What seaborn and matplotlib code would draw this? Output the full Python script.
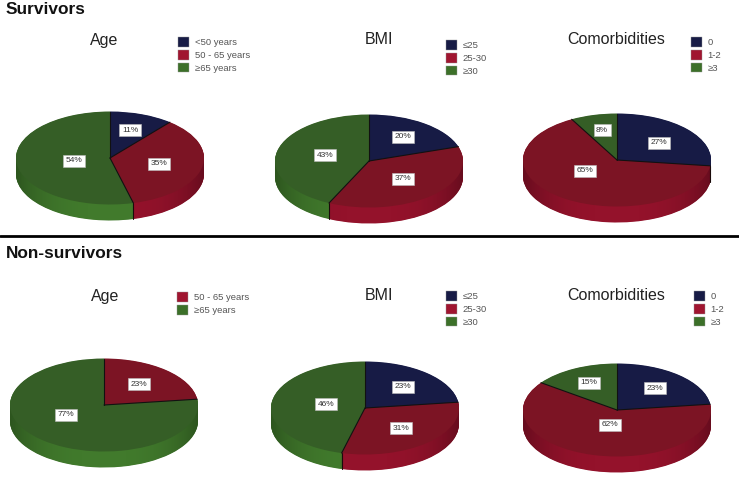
import numpy as np
import seaborn as sns
from matplotlib import pyplot as plt
from matplotlib.patches import Patch
from matplotlib.path import Path

sns.set_theme(style='white')
plt.rcParams['font.family'] = ['Liberation Sans', 'DejaVu Sans']

W, H = 739, 479

# values
age_labels = ['<50 years', '50 - 65 years', '≥65 years']
bmi_labels = ['≤25', '25-30', '≥30']
com_labels = ['0', '1-2', '≥3']

surv_age = [11, 35, 54]
surv_bmi = [20, 37, 43]
surv_com = [27, 65, 8]
non_age = [0, 23, 77]
non_bmi = [23, 31, 46]
non_com = [23, 62, 15]

top_cols = sns.color_palette(['#171b45', '#7c1424', '#355e26'])
side_cols = sns.color_palette(['#1c2050', '#94122b', '#417a2c'])

fig = plt.figure(figsize=(W / 100, H / 100), dpi=100, facecolor='white')


def pie3d(cx, cy, vals, label_xy, rx=94, ry=46.5, depth=16):
    ax = fig.add_axes([(cx - rx - 2) / W, (H - cy - ry - depth - 2) / H,
                       (2 * rx + 4) / W, (2 * ry + depth + 4) / H])
    keep = [i for i, v in enumerate(vals) if v > 0]
    v = [vals[i] for i in keep]
    top = [top_cols[i] for i in keep]
    side = [side_cols[i] for i in keep]
    # extrusion is just the same pie stacked downwards
    d = depth / ry
    for off in np.linspace(d, 0.01, depth * 2):
        ax.pie(v, colors=side, startangle=90, counterclock=False, center=(0, -off),
               wedgeprops={'linewidth': 0})

    # darken the rim towards both ends
    xs = np.linspace(-1, 1, 200)
    shade = np.zeros((1, 200, 4))
    shade[..., 3] = 0.3 * np.abs(xs) ** 3
    t = np.linspace(np.pi, 2 * np.pi, 80)
    rim = Path(np.column_stack([np.r_[np.cos(t), 1, -1], np.r_[np.sin(t) - d, 0, 0]]))
    im = ax.imshow(shade, extent=(-1, 1, -1 - d, 0), aspect='auto', zorder=1.5)
    im.set_clip_path(rim, transform=ax.transData)

    ang = 90 - np.cumsum(v) * 3.6
    for a in ang:
        x, y = np.cos(np.radians(a)), np.sin(np.radians(a))
        if y < 0:
            ax.plot([x, x], [y, y - d], color='#1a0a0a', lw=0.8, zorder=2)
    _, _, pcts = ax.pie(v, colors=top, startangle=90, counterclock=False,
                        autopct=lambda p: f'{p:.0f}%', pctdistance=0.6,
                        wedgeprops={'linewidth': 0, 'zorder': 2.5},
                        textprops={'fontsize': 6, 'color': '#333333', 'zorder': 4,
                                   'bbox': {'facecolor': 'white', 'edgecolor': '#bbbbbb',
                                            'pad': 1.8, 'linewidth': 0.4}})
    # labels sit where the original put them, not on a fixed radius
    for txt, (px, py) in zip(pcts, label_xy):
        txt.set_transform(fig.transFigure)
        txt.set_position((px / W, 1 - py / H))
    # slice borders only on the spokes, the outer rim has none
    for a in ang:
        ax.plot([0, np.cos(np.radians(a))], [0, np.sin(np.radians(a))], color='#111111', lw=0.8, zorder=2.6)
    ax.set_aspect('auto')
    ax.set_xlim(-(rx + 2) / rx, (rx + 2) / rx)
    ax.set_ylim(-1 - d - 2 / ry, 1 + 2 / ry)
    ax.axis('off')


def add_title(x, y, s):
    fig.text(x / W, 1 - y / H, s, fontsize=11.5, color='#222222', ha='center', va='center')


def add_legend(x, y, labels, cols):
    handles = [Patch(facecolor=c, edgecolor='#999999', linewidth=0.3, label=l) for l, c in zip(labels, cols)]
    fig.legend(handles=handles, loc='upper left', bbox_to_anchor=(x / W, 1 - y / H), frameon=False,
               fontsize=6.8, labelcolor='#555555', handlelength=1.2, handleheight=1.2, handletextpad=0.55,
               labelspacing=0.3, borderpad=0, borderaxespad=0)


leg_cols = ['#171b45', '#a01530', '#3c7029']

fig.text(6 / W, 1 - 9 / H, 'Survivors', fontsize=12.4, fontweight='bold', color='#111111', va='center')
fig.text(6 / W, 1 - 253 / H, 'Non-survivors', fontsize=12.4, fontweight='bold', color='#111111', va='center')
fig.add_artist(plt.Line2D([0, 1], [1 - 236 / H, 1 - 236 / H], color='black', lw=2))

pie3d(110, 158, surv_age, [(130, 130), (159, 164), (74, 161)])
pie3d(369, 161, surv_bmi, [(403, 137), (403, 179), (325, 155)])
pie3d(617, 160, surv_com, [(659, 143), (585, 171), (602, 130)])
pie3d(104, 405, non_age, [(139, 384), (66, 415)])
pie3d(365, 408, non_bmi, [(403, 387), (401, 428), (326, 404)])
pie3d(617, 410, non_com, [(655, 388), (610, 425), (589, 383)])

add_title(104, 40, 'Age')
add_title(379, 40, 'BMI')
add_title(616, 40, 'Comorbidities')
add_title(105, 296, 'Age')
add_title(379, 296, 'BMI')
add_title(616, 295, 'Comorbidities')

add_legend(178, 37, age_labels, leg_cols)
add_legend(446, 40, bmi_labels, leg_cols)
add_legend(691, 37, com_labels, leg_cols)
add_legend(177, 292, age_labels[1:], leg_cols[1:])
add_legend(446, 291, bmi_labels, leg_cols)
add_legend(694, 291, com_labels, leg_cols)

fig.savefig('out.png', dpi=100)
